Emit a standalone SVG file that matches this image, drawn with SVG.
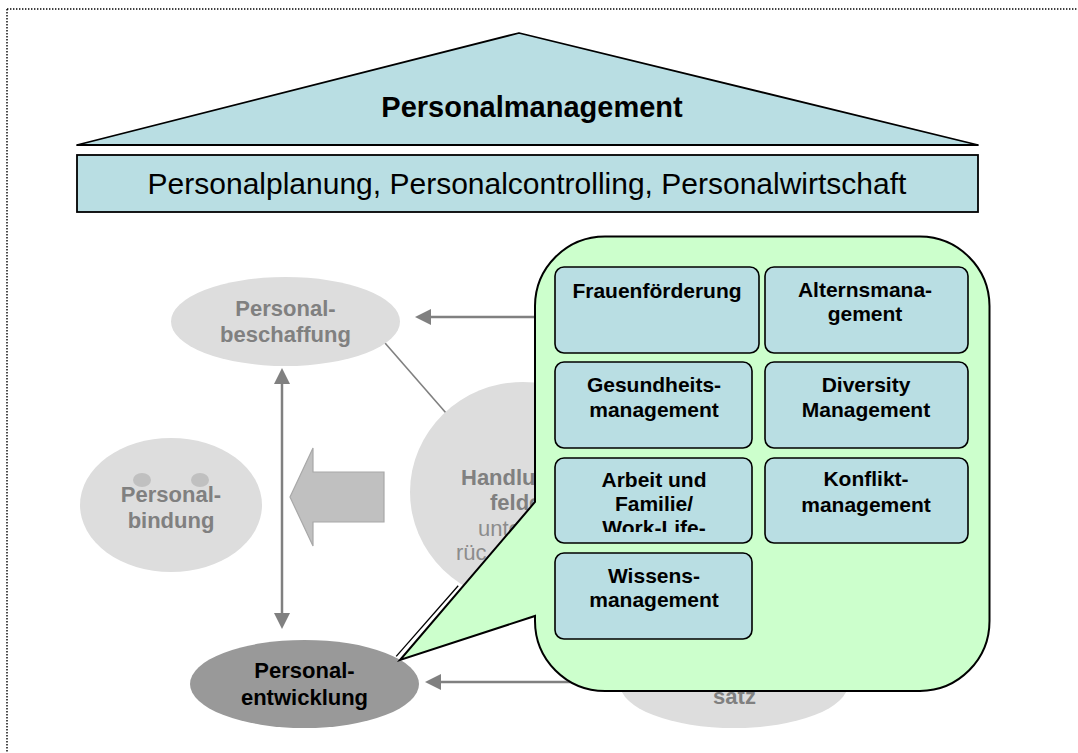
<svg xmlns="http://www.w3.org/2000/svg" width="1078" height="753" viewBox="0 0 1078 753">
  <style>
    .sans { font-family: "Liberation Sans", Arial, sans-serif; }
    .gray-node { fill: #dddddd; }
    .gray-bold { font-family: "Liberation Sans", Arial, sans-serif; font-weight: bold; font-size: 22px; fill: #808080; text-anchor: middle; }
    .gray-reg { font-family: "Liberation Sans", Arial, sans-serif; font-size: 22px; fill: #8c8c8c; }
    .field { fill: #b9dee3; stroke: #000; stroke-width: 1.6; }
    .field-text { font-family: "Liberation Sans", Arial, sans-serif; font-weight: bold; font-size: 21px; fill: #000; text-anchor: middle; }
    .conn { stroke: #808080; stroke-width: 2.5; fill: none; }
  </style>
  <defs>
    <marker id="ah" viewBox="0 0 16 16" refX="0" refY="8" markerWidth="16" markerHeight="16" markerUnits="userSpaceOnUse" orient="auto-start-reverse">
      <path d="M0,0 L16,8 L0,16 Z" fill="#808080"/>
    </marker>
    <clipPath id="clip-arbeit">
      <rect x="555" y="458" width="197" height="74"/>
    </clipPath>
  </defs>

  <rect width="1078" height="753" fill="#ffffff"/>

  <!-- dotted page frame -->
  <path d="M7,9 H1078 M7,9 V753" stroke="#000" stroke-width="1.4" stroke-dasharray="1.4 1.6" fill="none"/>

  <!-- roof -->
  <g id="roof">
    <polygon points="77,145 519,33 978,145" fill="#b9dee3" stroke="#000" stroke-width="1.8" stroke-linejoin="round"/>
    <text class="sans" x="532" y="117" font-size="29" font-weight="bold" text-anchor="middle">Personalmanagement</text>
  </g>

  <!-- base bar -->
  <g id="base">
    <rect x="77" y="155" width="901" height="57" fill="#b9dee3" stroke="#000" stroke-width="1.8"/>
    <text class="sans" x="527" y="194" font-size="30" text-anchor="middle">Personalplanung, Personalcontrolling, Personalwirtschaft</text>
  </g>

  <!-- connectors -->
  <g id="connectors">
    <line class="conn" x1="560" y1="317" x2="431" y2="317" marker-end="url(#ah)"/>
    <line class="conn" x1="282" y1="384" x2="282" y2="613" marker-start="url(#ah)" marker-end="url(#ah)"/>
    <line class="conn" x1="620" y1="682" x2="441" y2="682" marker-end="url(#ah)"/>
    <line x1="385" y1="343" x2="446" y2="413" stroke="#808080" stroke-width="1.6"/>
  </g>

  <g id="personalbeschaffung">
    <ellipse class="gray-node" cx="285.5" cy="321.5" rx="114.5" ry="44.5"/>
    <text class="gray-bold" x="285.5" y="316">Personal-</text>
    <text class="gray-bold" x="285.5" y="342">beschaffung</text>
  </g>

  <g id="personalbindung">
    <ellipse class="gray-node" cx="171" cy="505" rx="91" ry="67"/>
    <ellipse cx="142" cy="480" rx="9" ry="7" fill="#c0c0c0"/>
    <ellipse cx="200" cy="480" rx="9" ry="7" fill="#c0c0c0"/>
    <text class="gray-bold" x="171" y="502">Personal-</text>
    <text class="gray-bold" x="171" y="528">bindung</text>
  </g>

  <!-- block arrow pointing left -->
  <g id="block-arrow">
    <polygon points="290,497 313,448 313,472 384,472 384,522 313,522 313,546" fill="#c0c0c0" stroke="#a8a8a8" stroke-width="1.2"/>
  </g>

  <g id="handlungsfelder">
    <ellipse class="gray-node" cx="523" cy="492" rx="113" ry="110"/>
    <text class="gray-bold" x="461" y="485" style="text-anchor:start">Handlu</text>
    <text class="gray-bold" x="490" y="510" style="text-anchor:start">felde</text>
    <text class="gray-reg" x="478" y="536">unte</text>
    <text class="gray-reg" x="456" y="560">rüc</text>
  </g>

  <g id="personaleinsatz">
    <ellipse class="gray-node" cx="734" cy="684" rx="114" ry="44"/>
    <text class="gray-bold" x="734.5" y="704">satz</text>
  </g>

  <g id="personalentwicklung">
    <ellipse cx="304.5" cy="684" rx="114.5" ry="44" fill="#999999"/>
    <text class="sans" x="304.5" y="678" font-size="22" font-weight="bold" text-anchor="middle" fill="#000">Personal-</text>
    <text class="sans" x="304.5" y="705" font-size="22" font-weight="bold" text-anchor="middle" fill="#000">entwicklung</text>
  </g>

  <!-- callout with the fields of action -->
  <g id="callout">
    <path d="M535,306 A70,70 0 0 1 605,236.5 L920,236.5 A70,70 0 0 1 989.5,306 L989.5,621 A70,70 0 0 1 920,691 L605,691 A70,70 0 0 1 535,621 L535,616 L400,660 L535,502 Z" fill="#ccffcc" stroke="#000" stroke-width="2" stroke-linejoin="miter"/>
    <line x1="396.2" y1="656.4" x2="458.2" y2="585.8" stroke="#000" stroke-width="1.3"/>
  </g>

  <g id="frauenfoerderung">
    <rect class="field" x="555" y="267" width="204" height="86" rx="9"/>
    <text class="field-text" x="657" y="298">Frauenförderung</text>
  </g>
  <g id="alternsmanagement">
    <rect class="field" x="765" y="267" width="203" height="86" rx="9"/>
    <text class="field-text" x="865" y="297">Alternsmana-</text>
    <text class="field-text" x="865" y="321">gement</text>
  </g>
  <g id="gesundheitsmanagement">
    <rect class="field" x="555" y="362" width="197" height="86" rx="9"/>
    <text class="field-text" x="654" y="392">Gesundheits-</text>
    <text class="field-text" x="654" y="417">management</text>
  </g>
  <g id="diversity-management">
    <rect class="field" x="765" y="362" width="203" height="86" rx="9"/>
    <text class="field-text" x="866" y="392">Diversity</text>
    <text class="field-text" x="866" y="417">Management</text>
  </g>
  <g id="arbeit-und-familie">
    <rect class="field" x="555" y="458" width="197" height="85" rx="9"/>
    <g clip-path="url(#clip-arbeit)">
      <text class="field-text" x="654" y="487">Arbeit und</text>
      <text class="field-text" x="654" y="511">Familie/</text>
      <text class="field-text" x="654" y="535">Work-Life-</text>
    </g>
  </g>
  <g id="konfliktmanagement">
    <rect class="field" x="765" y="458" width="203" height="85" rx="9"/>
    <text class="field-text" x="866" y="486">Konflikt-</text>
    <text class="field-text" x="866" y="512">management</text>
  </g>
  <g id="wissensmanagement">
    <rect class="field" x="555" y="553" width="197" height="86" rx="9"/>
    <text class="field-text" x="654" y="583">Wissens-</text>
    <text class="field-text" x="654" y="607">management</text>
  </g>
</svg>
